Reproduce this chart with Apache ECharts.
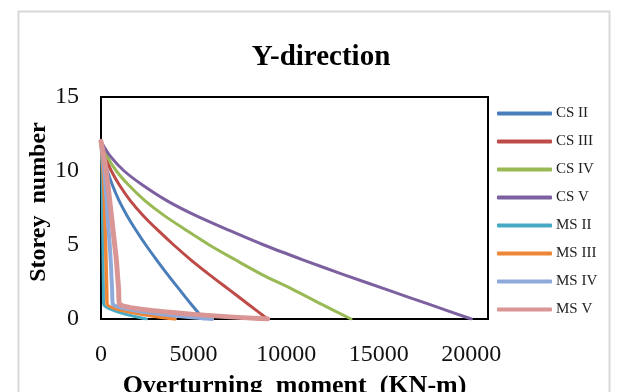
<!DOCTYPE html>
<html>
<head>
<meta charset="utf-8">
<script src="https://cdn.jsdelivr.net/npm/echarts@6/dist/echarts.min.js"></script>
<style>
html,body{margin:0;padding:0;background:#fff;}
#main{width:625px;height:392px;}
</style>
</head>
<body>
<div id="main"></div>
<script>
// Storey levels (0 = base, 12 = top)
var storeys = [0, 1, 2, 3, 4, 5, 6, 7, 8, 9, 10, 11, 12];

// Overturning moment (KN-m) at each storey
var csII  = [5550, 4870, 4230, 3600, 3000, 2420, 1890, 1400, 975, 630, 345, 138, 0];
var csIII = [9000, 7950, 6900, 5850, 4850, 3930, 3070, 2270, 1580, 1020, 560, 220, 0];
var csIV  = [13500, 11900, 10350, 8700, 7250, 5850, 4600, 3400, 2370, 1530, 830, 330, 0];
var csV   = [20000, 17700, 15400, 13100, 10900, 8800, 6900, 5100, 3550, 2300, 1250, 500, 0];
var msII  = [2450, 140, 130, 120, 110, 100, 90, 80, 70, 60, 50, 30, 0];
var msIII = [4000, 330, 310, 290, 270, 250, 230, 200, 180, 150, 110, 60, 0];
var msIV  = [6000, 640, 600, 560, 520, 470, 410, 350, 300, 240, 180, 100, 0];
var msV   = [9000, 1000, 950, 890, 830, 740, 650, 560, 470, 380, 280, 150, 0];

var seriesNames = ['CS II', 'CS III', 'CS IV', 'CS V', 'MS II', 'MS III', 'MS IV', 'MS V'];
var seriesValues = [csII, csIII, csIV, csV, msII, msIII, msIV, msV];
var colors = ['#4A7EBB', '#BE4B48', '#98B954', '#7D60A0', '#46AAC5', '#EE8638', '#8EAADB', '#D99694'];
var widths = [3, 3, 3, 3, 3, 3.5, 4, 5];

var xTicks = [0, 5000, 10000, 15000, 20000];
var yTicks = [0, 5, 10, 15];

var serif = '"Liberation Serif", "Times New Roman", serif';

var chart = echarts.init(document.getElementById('main'), null, {renderer: 'canvas'});

var series = seriesNames.map(function (name, i) {
  return {
    name: name,
    type: 'line',
    symbol: 'none',
    smooth: 0.3,
    data: storeys.map(function (s, k) { return [seriesValues[i][k], s]; }),
    lineStyle: {color: colors[i], width: widths[i], cap: 'round', join: 'round'},
    itemStyle: {color: colors[i]},
    emphasis: {disabled: true},
    animation: false
  };
});

var option = {
  backgroundColor: '#ffffff',
  animation: false,
  title: {
    text: 'Y-direction',
    left: 316,
    textAlign: 'center',
    top: 38,
    textStyle: {fontFamily: serif, fontWeight: 'bold', fontSize: 29, color: '#000'}
  },
  legend: {
    orient: 'vertical',
    left: 492,
    top: 101,
    itemWidth: 55,
    itemHeight: 4,
    itemGap: 13,
    icon: 'roundRect',
    data: seriesNames,
    textStyle: {fontFamily: serif, fontSize: 15, color: '#222', lineHeight: 15, padding: [0, 0, 0, -1]}
  },
  grid: {
    left: 101,
    right: 137,
    top: 97,
    bottom: 73,
    outerBoundsMode: 'none',
    containLabel: false,
    show: true,
    borderColor: '#000',
    borderWidth: 2
  },
  xAxis: {
    type: 'value',
    min: 0,
    max: 20900,
    interval: 5000,
    name: 'Overturning  moment  (KN-m)',
    nameLocation: 'middle',
    nameGap: 54,
    nameMoveOverlap: false,
    nameTextStyle: {fontFamily: serif, fontWeight: 'bold', fontSize: 26, color: '#000'},
    axisLine: {show: true, lineStyle: {color: '#000', width: 2}},
    axisTick: {show: false},
    splitLine: {show: false},
    axisLabel: {
      fontFamily: serif, fontSize: 24, color: '#111', margin: 24,
      showMaxLabel: false,
      formatter: function (v) { return xTicks.indexOf(v) >= 0 ? String(v) : ''; }
    }
  },
  yAxis: {
    type: 'value',
    min: 0,
    max: 15,
    interval: 5,
    name: 'Storey  number',
    nameLocation: 'middle',
    nameGap: 50,
    nameMoveOverlap: false,
    nameTextStyle: {fontFamily: serif, fontWeight: 'bold', fontSize: 24, color: '#000', padding: [0, 0, 0, 12]},
    axisLine: {show: true, lineStyle: {color: '#000', width: 2}},
    axisTick: {show: false},
    splitLine: {show: false},
    axisLabel: {
      fontFamily: serif, fontSize: 24, color: '#111', margin: 22,
      formatter: function (v) { return yTicks.indexOf(v) >= 0 ? String(v) : ''; }
    }
  },
  graphic: [{
    type: 'rect',
    left: 16,
    top: 9,
    shape: {x: 0, y: 0, width: 591, height: 400},
    style: {fill: 'none', stroke: '#D9D9D9', lineWidth: 2},
    silent: true,
    z: -10
  }],
  series: series
};

chart.setOption(option);
</script>
</body>
</html>
